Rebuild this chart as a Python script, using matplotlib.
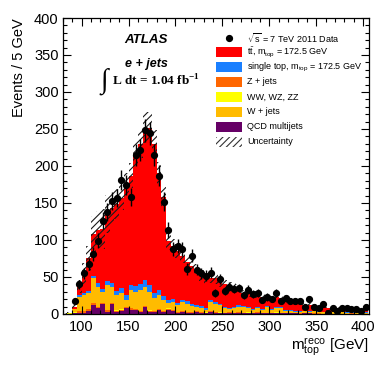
import numpy as np
import matplotlib
matplotlib.use("Agg")
import matplotlib.pyplot as plt
from matplotlib.patches import Rectangle

plt.rcParams['font.family'] = ['Liberation Sans', 'DejaVu Sans']
plt.rcParams['mathtext.fontset'] = 'custom'
plt.rcParams['mathtext.rm'] = 'Liberation Sans'
plt.rcParams['mathtext.it'] = 'Liberation Sans:italic'
plt.rcParams['mathtext.bf'] = 'Liberation Serif:bold'
plt.rcParams['hatch.linewidth'] = 0.8

# 5 GeV bins, 80 - 405 GeV
centers = [82.5, 87.5, 92.5, 97.5, 102.5, 107.5, 112.5, 117.5, 122.5, 127.5,
           132.5, 137.5, 142.5, 147.5, 152.5, 157.5, 162.5, 167.5, 172.5, 177.5,
           182.5, 187.5, 192.5, 197.5, 202.5, 207.5, 212.5, 217.5, 222.5, 227.5,
           232.5, 237.5, 242.5, 247.5, 252.5, 257.5, 262.5, 267.5, 272.5, 277.5,
           282.5, 287.5, 292.5, 297.5, 302.5, 307.5, 312.5, 317.5, 322.5, 327.5,
           332.5, 337.5, 342.5, 347.5, 352.5, 357.5, 362.5, 367.5, 372.5, 377.5,
           382.5, 387.5, 392.5, 397.5, 402.5]

data = [0, 0, 17, 40, 55, 67, 81, 99, 126, 138,
        153, 157, 181, 174, 158, 215, 221, 248, 244, 215,
        187, 152, 114, 88, 92, 88, 61, 79, 60, 55,
        52, 56, 28, 47, 31, 37, 34, 35, 26, 33,
        27, 29, 19, 23, 20, 28, 17, 21, 18, 18,
        18, 9, 20, 10, 8, 14, 2, 8, 4, 8,
        8, 7, 7, 4, 10]

qcd = [0, 0.3, 1, 2, 2, 4.5, 12, 7.6, 13, 3,
       13, 3, 4.5, 7.6, 6, 5.4, 2.2, 9, 3, 2.7,
       5.4, 2.7, 6, 4.5, 2, 3, 2, 1.5, 3, 2,
       1, 3, 2, 1, 1, 2, 1, 2, 1, 1.5,
       1, 2, 1, 1, 0.8, 1.5, 1, 1, 0.8, 1,
       0.5, 0.8, 1, 0.5, 0.5, 0.3, 0.5, 0.3, 0.5, 0.3,
       0.3, 0.5, 0.3, 0.3, 0.3]

zjets = [0, 0.3, 1, 1.5, 1.5, 2, 2.5, 2, 2, 2,
         2, 1.5, 1.5, 1.5, 1.5, 1.5, 1.5, 1.5, 1.5, 1.5,
         1.5, 1.5, 1.2, 1.2, 1, 1, 1, 1, 1, 0.8,
         0.8, 0.8, 0.8, 0.8, 0.6, 0.6, 0.6, 0.6, 0.6, 0.5,
         0.5, 0.5, 0.5, 0.5, 0.4, 0.4, 0.4, 0.4, 0.4, 0.3,
         0.3, 0.3, 0.3, 0.3, 0.3, 0.2, 0.2, 0.2, 0.2, 0.2,
         0.2, 0.2, 0.1, 0.1, 0.1]

diboson = [0, 0.1, 0.2, 0.3, 0.3, 0.4, 0.4, 0.4, 0.4, 0.4,
           0.4, 0.4, 0.4, 0.4, 0.4, 0.4, 0.4, 0.4, 0.4, 0.4,
           0.4, 0.4, 0.3, 0.3, 0.3, 0.3, 0.3, 0.3, 0.3, 0.3,
           0.3, 0.3, 0.3, 0.3, 0.3, 0.3, 0.3, 0.3, 0.3, 0.3,
           0.3, 0.3, 0.3, 0.3, 0.2, 0.2, 0.2, 0.2, 0.2, 0.2,
           0.2, 0.1, 0.1, 0.1, 0.1, 0.1, 0.1, 0.1, 0.1, 0.1,
           0.1, 0.1, 0.1, 0.1, 0.1]

wjets = [0.5, 1, 4, 19.2, 22.2, 21.1, 33.1, 27, 14.6, 33.6,
         21.6, 21.1, 21.6, 9.5, 24.1, 22.7, 27.9, 26.1, 25.1, 16.4,
         18.7, 14.4, 6.9, 10.6, 8.7, 11.7, 10.7, 8.2, 5.7, 4.9,
         3.9, 11.9, 10.9, 9.9, 5.7, 3.8, 5.7, 7.1, 7.1, 5.3,
         3.7, 4.9, 3.7, 8.3, 4, 5.5, 6, 2.9, 3.1, 1.5,
         2, 2.2, 1.6, 2.6, 2.1, 1.6, 2.2, 1.6, 1.2, 1.6,
         1.4, 1.2, 1.3, 1.5, 1.3]

singletop = [0, 0.1, 0.8, 2.5, 2.5, 2.5, 4, 5, 4, 5,
             5, 5, 7, 7, 7, 8, 9, 9, 9, 7,
             6, 5, 4, 4, 3.5, 3, 3, 3, 2.5, 2.5,
             2.5, 2.5, 2.5, 2, 2, 2, 2, 1.5, 1.5, 1.5,
             1.5, 1.5, 1.5, 1.2, 1.2, 1.2, 1.2, 1, 1, 1,
             1, 0.8, 0.8, 0.8, 0.7, 0.7, 0.6, 0.6, 0.6, 0.5,
             0.5, 0.5, 0.4, 0.4, 0.4]

ttbar = [0, 0.2, 3, 11.5, 26.5, 44.5, 56, 72, 81, 91,
         101, 118, 122, 148, 148, 178, 189, 206, 213, 202,
         158, 134, 79.6, 71.4, 69.5, 59, 53, 51, 47.5, 41.5,
         39.5, 30.5, 31.5, 30, 30.4, 28.3, 27.4, 23.5, 17.5, 18.9,
         20.1, 16.9, 16.1, 9.8, 13.4, 14.2, 12.2, 13.5, 12.5, 12,
         12, 7.7, 8.2, 6.7, 6.3, 7.1, 4.4, 5.2, 5.4, 4.9,
         4.5, 4, 3.8, 3.6, 2.8]

uncert = [0.2, 0.6, 3, 9, 14, 17, 25, 25, 27, 26,
          22, 20, 17, 16, 17, 18, 19, 21, 21, 19,
          16, 14, 11, 10, 9, 9, 8, 8, 7, 7,
          7, 7, 7, 7, 6, 6, 6, 6, 5, 5,
          5, 5, 5, 4, 4, 4, 4, 4, 4, 3.5,
          3.5, 3, 3, 3, 2.5, 2.5, 2, 2, 2, 2,
          2, 2, 1.5, 1.5, 1.5]

# stack from the bottom up
stack = [
    (qcd, '#660066'),
    (zjets, '#ff6600'),
    (diboson, '#ffff00'),
    (wjets, '#ffbb00'),
    (singletop, '#1a7fff'),
    (ttbar, '#ff0000'),
]

x = np.array(centers)
edges = np.append(x - 2.5, x[-1] + 2.5)

fig = plt.figure(figsize=(3.9, 3.75), dpi=100)
ax = fig.add_axes([0.161, 0.1627, 0.786, 0.7893])

bottom = np.zeros(len(x))
for vals, col in stack:
    top = bottom + np.array(vals)
    ax.stairs(top, edges, baseline=bottom, fill=True, color=col, linewidth=0)
    bottom = top
total = bottom
unc = np.array(uncert)
ax.stairs(total + unc, edges, baseline=total - unc, fill=True, facecolor='none',
          edgecolor='0.1', hatch='/////', linewidth=0)

d = np.array(data, dtype=float)
m = d > 0
ax.errorbar(x[m], d[m], yerr=np.sqrt(d[m]), fmt='o', color='black', ms=4.2,
            elinewidth=1.0, capsize=0, zorder=5)

ax.set_xlim(80, 406.5)
ax.set_ylim(0, 400)
ax.set_xticks([100, 150, 200, 250, 300, 350, 400])
ax.set_yticks([0, 50, 100, 150, 200, 250, 300, 350, 400])
ax.xaxis.set_minor_locator(matplotlib.ticker.MultipleLocator(10))
ax.yaxis.set_minor_locator(matplotlib.ticker.MultipleLocator(10))
ax.tick_params(which='both', direction='in', top=True, right=True, width=0.8)
ax.tick_params(which='major', length=5.5, labelsize=10.5)
ax.tick_params(which='minor', length=3)
ax.tick_params(axis='x', pad=4)
ax.tick_params(axis='y', pad=3)
for s in ax.spines.values():
    s.set_linewidth(0.9)

ax.set_ylabel('Events / 5 GeV', fontsize=10.5, loc='top')
ax.yaxis.set_label_coords(-0.12, 1.0)
ax.set_xlabel(r'$\mathregular{m_{top}^{reco}}$ [GeV]', fontsize=11, loc='right')
ax.xaxis.set_label_coords(1.0, -0.075)

# labels
ax.text(0.2715, 0.926, 'ATLAS', transform=ax.transAxes, ha='center', va='center',
        fontsize=9.6, fontweight='bold', fontstyle='italic')
ax.text(0.2715, 0.845, 'e + jets', transform=ax.transAxes, ha='center', va='center',
        fontsize=9, fontweight='bold', fontstyle='italic')
ax.text(0.135, 0.787, '\u222b', transform=ax.transAxes, ha='center', va='center',
        fontsize=20, family=['Liberation Serif', 'DejaVu Serif'])
ax.text(0.161, 0.770, r'L dt = 1.04 fb$^{\mathbf{-1}}$', transform=ax.transAxes,
        ha='left', va='baseline', fontsize=9.5, fontweight='bold',
        family=['Liberation Serif', 'DejaVu Serif'])

# legend, drawn by hand to keep the ROOT spacing
leg_rows = [
    ('data', None, r'$\sqrt{\mathregular{s}}$ = 7 TeV 2011 Data'),
    ('box', '#ff0000', r'$\mathregular{t\bar{t}}$, m$_{\mathregular{top}}$ = 172.5 GeV'),
    ('box', '#1a7fff', r'single top, m$_{\mathregular{top}}$ = 172.5 GeV'),
    ('box', '#ff6600', 'Z + jets'),
    ('box', '#ffff00', 'WW, WZ, ZZ'),
    ('box', '#ffbb00', 'W + jets'),
    ('box', '#660066', 'QCD multijets'),
    ('hatch', None, 'Uncertainty'),
]
row_px = [38, 52.5, 67, 82, 97, 112, 127, 142]
x0, x1, xt = (216 - 62.7) / 306.8, (242.5 - 62.7) / 306.8, (247 - 62.7) / 306.8
bh = 10 / 296
for (kind, col, lab), py in zip(leg_rows, row_px):
    fy = (314 - py) / 296
    if kind == 'data':
        ax.plot([(x0 + x1) / 2], [fy], 'o', color='black', ms=4.2, transform=ax.transAxes,
                clip_on=False)
    elif kind == 'box':
        ax.add_patch(Rectangle((x0, fy - bh / 2), x1 - x0, bh, transform=ax.transAxes,
                               facecolor=col, edgecolor='none', clip_on=False))
    else:
        ax.add_patch(Rectangle((x0, fy - bh / 2), x1 - x0, bh, transform=ax.transAxes,
                               facecolor='none', edgecolor='0.2', hatch='/////',
                               linewidth=0, clip_on=False))
    ax.text(xt, fy, lab, transform=ax.transAxes, ha='left', va='center', fontsize=6.5)

fig.savefig('out.png', dpi=100)
